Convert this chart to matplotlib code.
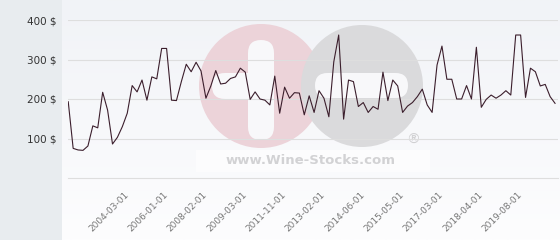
import numpy as np
import matplotlib
matplotlib.use('Agg')
import matplotlib.pyplot as plt
from matplotlib.patches import Circle, Rectangle, FancyBboxPatch

# price per bottle, one value per auction date
prices = [
    193, 75, 71, 70, 81, 132, 127, 217, 172, 86,
    103, 130, 164, 234, 218, 248, 197, 256, 251, 328,
    328, 197, 196, 244, 288, 269, 293, 271, 202, 233,
    272, 238, 240, 252, 256, 278, 268, 199, 218, 200,
    197, 185, 258, 164, 230, 202, 216, 215, 160, 208,
    166, 221, 202, 155, 294, 362, 149, 248, 244, 181,
    191, 166, 181, 174, 268, 196, 248, 233, 166, 182,
    191, 206, 225, 185, 166, 286, 334, 250, 250, 200,
    200, 234, 200, 331, 179, 199, 210, 202, 210, 221,
    210, 362, 362, 204, 278, 269, 233, 237, 206, 189,
]
date_labels = ['2004-03-01', '2006-01-01', '2008-02-01', '2009-03-01',
               '2011-11-01', '2013-02-01', '2014-06-01', '2015-05-01',
               '2017-03-01', '2018-04-01', '2019-08-01']
date_index = list(range(12, 100, 8))
y_ticks = [100, 200, 300, 400]
y_labels = ['100 $', '200 $', '300 $', '400 $']

W, H = 560, 240
fig = plt.figure(figsize=(W / 100, H / 100), dpi=100)

# background layer in pixel coordinates
bg = fig.add_axes([0, 0, 1, 1], zorder=0)
bg.set_xlim(0, W)
bg.set_ylim(H, 0)
bg.axis('off')
grad = np.linspace(0, 1, 100).reshape(-1, 1)
cmap = matplotlib.colors.LinearSegmentedColormap.from_list('bg', ['#f1f3f7', '#fdfdfe'])
bg.imshow(grad, cmap=cmap, extent=[0, W, H, 0], aspect='auto')
bg.add_patch(Rectangle((0, 0), 62, H, color='#e8ecef', lw=0))

# watermark logo
bg.add_patch(Rectangle((196, 150), 234, 22, color='#ffffff', alpha=0.6, lw=0))
bg.add_patch(Circle((261, 86), 62, color='#ecd3d9', lw=0))
bg.add_patch(Circle((362, 86), 61, color='#dadadc', lw=0))
bg.add_patch(FancyBboxPatch((248, 40), 26, 100, boxstyle='round,pad=0,rounding_size=13',
                            color='#f8f8fa', lw=0))
bg.add_patch(FancyBboxPatch((212, 73), 50, 26, boxstyle='round,pad=0,rounding_size=13',
                            color='#f8f8fa', lw=0))
bg.add_patch(FancyBboxPatch((315, 73), 93, 25, boxstyle='round,pad=0,rounding_size=12.5',
                            color='#f8f8fa', lw=0))
bg.text(311, 161, 'www.Wine-Stocks.com', color='#d2d2d4', fontsize=9.5,
        fontweight='bold', ha='center', va='center')
bg.text(413, 140, '®', color='#d0d0d2', fontsize=10, ha='center', va='center')

# main chart
ax = fig.add_axes([68 / W, 1 - 178 / H, 490 / W, 158 / H], zorder=1)
ax.patch.set_alpha(0)
x = np.arange(len(prices))
ax.plot(x, prices, color='#3b1e2c', lw=0.8)
ax.set_xlim(-0.05, 99.6)
ax.set_ylim(0, 400)

ax.set_yticks(y_ticks)
ax.set_yticklabels(y_labels)
ax.set_xticks(date_index)
ax.set_xticklabels(date_labels, rotation=45, ha='right', va='center',
                   rotation_mode='anchor')
ax.tick_params(axis='y', length=0, pad=8, labelsize=7.5, labelcolor='#333333')
ax.tick_params(axis='x', length=0, pad=11, labelsize=6.5, labelcolor='#777777')
ax.grid(axis='y', color='#dedede', lw=0.8)
for s in ['top', 'right', 'left']:
    ax.spines[s].set_visible(False)
ax.spines['bottom'].set_color('#dedede')
ax.spines['bottom'].set_linewidth(0.8)

fig.savefig('out.png', dpi=100)
